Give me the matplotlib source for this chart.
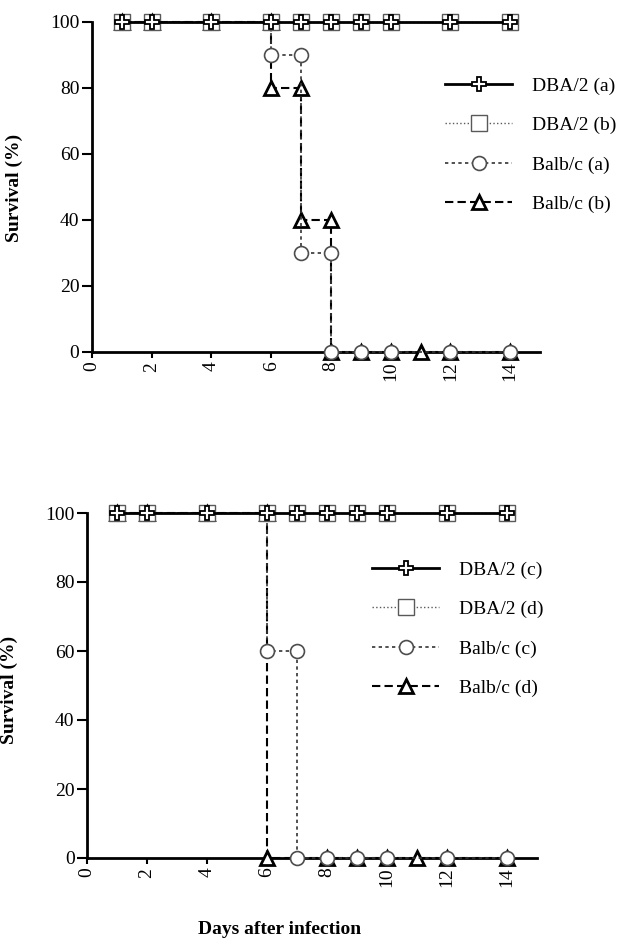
import numpy as np
import matplotlib.pyplot as plt

plt.rcParams['font.family'] = ['Liberation Serif', 'DejaVu Serif']

# panel 1
days_dba = [1, 2, 4, 6, 7, 8, 9, 10, 12, 14]
surv_dba_a = [100, 100, 100, 100, 100, 100, 100, 100, 100, 100]
surv_dba_b = [100, 100, 100, 100, 100, 100, 100, 100, 100, 100]
days_balb_a = [1, 2, 4, 6, 6, 7, 7, 8, 8, 9, 10, 12, 14]
surv_balb_a = [100, 100, 100, 100, 90, 90, 30, 30, 0, 0, 0, 0, 0]
days_balb_b = [1, 2, 4, 6, 6, 7, 7, 8, 8, 9, 10, 11, 12, 14]
surv_balb_b = [100, 100, 100, 100, 80, 80, 40, 40, 0, 0, 0, 0, 0, 0]

# panel 2
surv_dba_c = [100, 100, 100, 100, 100, 100, 100, 100, 100, 100]
surv_dba_d = [100, 100, 100, 100, 100, 100, 100, 100, 100, 100]
days_balb_c = [1, 2, 4, 6, 6, 7, 7, 8, 9, 10, 12, 14]
surv_balb_c = [100, 100, 100, 100, 60, 60, 0, 0, 0, 0, 0, 0]
days_balb_d = [1, 2, 4, 6, 6, 8, 9, 10, 11, 12, 14]
surv_balb_d = [100, 100, 100, 100, 0, 0, 0, 0, 0, 0, 0]

labels_top = ['DBA/2 (a)', 'DBA/2 (b)', 'Balb/c (a)', 'Balb/c (b)']
labels_bot = ['DBA/2 (c)', 'DBA/2 (d)', 'Balb/c (c)', 'Balb/c (d)']

W, H = 618, 939
fig = plt.figure(figsize=(W / 100, H / 100), dpi=100)
ax1 = fig.add_axes([92 / W, 1 - 352 / H, 448 / W, 330 / H])
ax2 = fig.add_axes([87 / W, 1 - 858 / H, 450 / W, 345 / H])


def draw(ax, s1, s2, d3, s3, d4, s4, labels, leg_xy):
    common = dict(clip_on=False, markerfacecolor='white')
    h4, = ax.plot(d4, s4, color='black', lw=1.5, dashes=(4, 2), marker='^',
                  ms=10, mec='black', mew=2, label=labels[3], zorder=3, **common)
    h3, = ax.plot(d3, s3, color='0.2', lw=1.2, dashes=(2, 2), marker='o',
                  ms=10, mec='0.3', mew=1.2, label=labels[2], zorder=4, **common)
    h2, = ax.plot(days_dba, s2, color='0.35', lw=1.0, ls=':', marker='s',
                  ms=11, mec='0.35', mew=1.0, label=labels[1], zorder=5, **common)
    h1, = ax.plot(days_dba, s1, color='black', lw=2, ls='-', marker='P',
                  ms=10, mec='black', mew=1.3, label=labels[0], zorder=6, **common)
    ax.set_xlim(0, 15)
    ax.set_ylim(0, 100)
    ax.set_xticks(np.arange(0, 15, 2))
    ax.set_yticks(np.arange(0, 101, 20))
    ax.tick_params(axis='x', labelrotation=90, length=4, width=1.5, labelsize=14, pad=3)
    ax.tick_params(axis='y', length=7, width=1.5, labelsize=14, pad=2)
    for s in ['top', 'right']:
        ax.spines[s].set_visible(False)
    for s in ['left', 'bottom']:
        ax.spines[s].set_linewidth(2)
    ax.spines['left'].set_zorder(1)
    ax.set_ylabel('Survival (%)', fontsize=14, fontweight='bold')
    fig.legend(handles=[h1, h2, h3, h4], loc='upper left',
               bbox_to_anchor=leg_xy, frameon=False, fontsize=14,
               handlelength=3.45, handletextpad=1.0, labelspacing=1.12,
               borderpad=0, borderaxespad=0)


draw(ax1, surv_dba_a, surv_dba_b, days_balb_a, surv_balb_a,
     days_balb_b, surv_balb_b, labels_top, (445 / W, 1 - 77 / H))
draw(ax2, surv_dba_c, surv_dba_d, days_balb_c, surv_balb_c,
     days_balb_d, surv_balb_d, labels_bot, (372 / W, 1 - 561 / H))

ax1.yaxis.set_label_coords(23 / W, 1 - 188 / H, transform=fig.transFigure)
ax2.yaxis.set_label_coords(18 / W, 1 - 690 / H, transform=fig.transFigure)

fig.text(280 / W, 1 - 930 / H, 'Days after infection', ha='center', va='center',
         fontsize=14, fontweight='bold')

fig.savefig('out.png', dpi=100)
